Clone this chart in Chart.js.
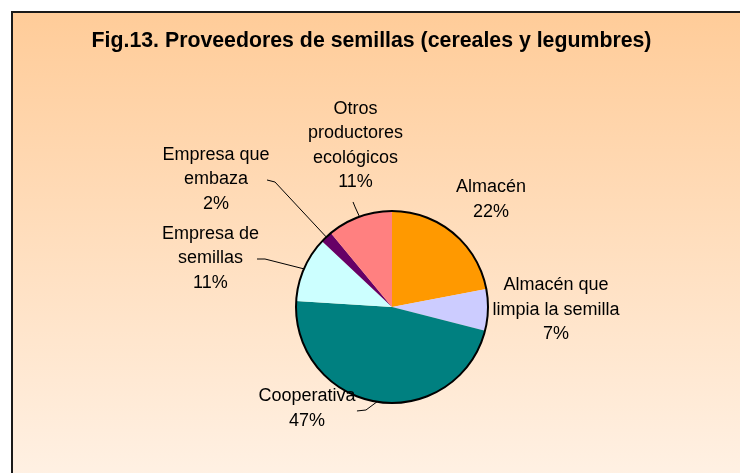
<!DOCTYPE html>
<html>
<head>
<meta charset="utf-8">
<script src="https://cdn.jsdelivr.net/npm/chart.js@4/dist/chart.umd.min.js"></script>
<style>
  html, body { margin: 0; padding: 0; background: #fff; overflow: hidden; }
  #frame {
    position: absolute; left: 11px; top: 11px; width: 760px; height: 480px;
    border-top: 2px solid #1a1a1a; border-left: 2px solid #1a1a1a;
    background: linear-gradient(to bottom, #FFCC99 0%, #FFF2E6 100%);
  }
  #chart { position: absolute; left: 0; top: 0; }
</style>
</head>
<body>
<div id="frame"></div>
<canvas id="chart" width="740" height="473"></canvas>
<script>
const titleText = 'Fig.13. Proveedores de semillas (cereales y legumbres)';
const categories = ['Almacén', 'Almacén que limpia la semilla', 'Cooperativa',
    'Empresa de semillas', 'Empresa que embaza', 'Otros productores ecológicos'];
const labelLines = [['Almacén'], ['Almacén que', 'limpia la semilla'], ['Cooperativa'],
    ['Empresa de', 'semillas'], ['Empresa que', 'embaza'], ['Otros', 'productores', 'ecológicos']];
const percentages = [22, 7, 47, 11, 2, 11];
const colors = ['#FF9900', '#CCCCFF', '#008080', '#CCFFFF', '#660066', '#FF8080'];

// label block centre and leader start/elbow, in units of the pie radius from its centre
const labelPos = [[1.031, -1.121], [1.708, 0.031], [-0.885, 1.059],
    [-1.891, -0.506], [-1.833, -1.331], [-0.380, -1.684]];
const leaders = [null, null,
    [[-0.365, 1.083], [-0.271, 1.073]],
    [[-1.406, -0.5], [-1.323, -0.5]],
    [[-1.302, -1.323], [-1.219, -1.302]],
    [[-0.406, -1.094], [-0.385, -1.042]]];

const FONT = '"Liberation Sans", Arial, sans-serif';

const pieExtras = {
    id: 'pieExtras',
    afterDatasetsDraw(chart) {
        const ctx = chart.ctx;
        const arcs = chart.getDatasetMeta(0).data;
        const cx = arcs[0].x, cy = arcs[0].y, r = arcs[0].outerRadius;
        ctx.save();
        // outline
        ctx.beginPath();
        ctx.arc(cx, cy, r, 0, Math.PI * 2);
        ctx.lineWidth = 2;
        ctx.strokeStyle = '#000';
        ctx.stroke();

        // leader lines
        ctx.lineWidth = 1;
        arcs.forEach((arc, i) => {
            const pts = leaders[i];
            if (!pts) return;
            const mid = (arc.startAngle + arc.endAngle) / 2;
            ctx.beginPath();
            ctx.moveTo(cx + pts[0][0] * r, cy + pts[0][1] * r);
            ctx.lineTo(cx + pts[1][0] * r, cy + pts[1][1] * r);
            ctx.lineTo(cx + Math.cos(mid) * r, cy + Math.sin(mid) * r);
            ctx.stroke();
        });

        // labels
        ctx.fillStyle = '#000';
        ctx.font = '18px ' + FONT;
        ctx.textAlign = 'center';
        ctx.textBaseline = 'middle';
        const lh = 24.5;
        arcs.forEach((arc, i) => {
            const lines = labelLines[i].concat([percentages[i] + '%']);
            const x = cx + labelPos[i][0] * r;
            const y0 = cy + labelPos[i][1] * r - (lines.length - 1) * lh / 2;
            lines.forEach((t, k) => ctx.fillText(t, x, y0 + k * lh));
        });

        // title
        ctx.font = 'bold 21.3px ' + FONT;
        ctx.textBaseline = 'alphabetic';
        ctx.fillText(titleText, 371.5, 47);
        ctx.restore();
    }
};

const chart = new Chart(document.getElementById('chart'), {
    type: 'pie',
    data: {
        labels: categories,
        datasets: [{
            data: percentages,
            backgroundColor: colors,
            borderWidth: 0
        }]
    },
    options: {
        responsive: false,
        animation: false,
        events: [],
        layout: { padding: { left: 296, right: 252, top: 211, bottom: 70 } },
        plugins: {
            legend: { display: false },
            tooltip: { enabled: false },
            title: { display: false }
        }
    },
    plugins: [pieExtras]
});
</script>
</body>
</html>
